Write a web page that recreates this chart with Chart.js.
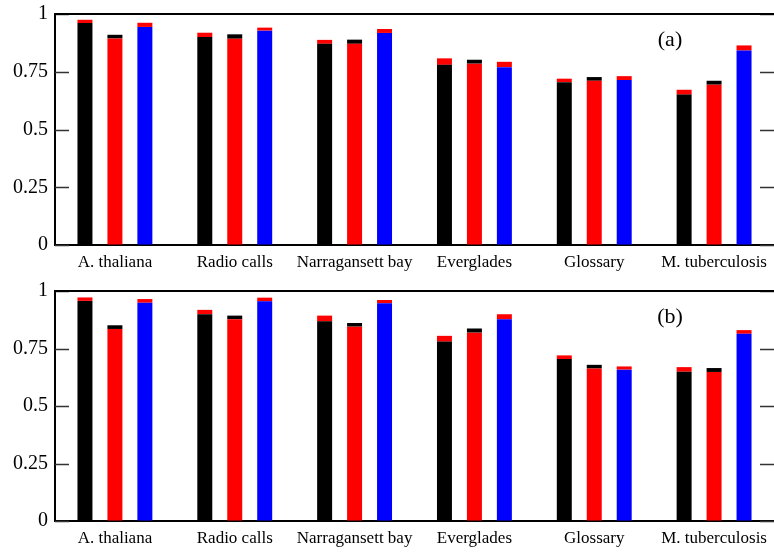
<!DOCTYPE html>
<html>
<head>
<meta charset="utf-8">
<script src="https://cdn.jsdelivr.net/npm/chart.js@4/dist/chart.umd.min.js"></script>
<style>
  html, body { margin: 0; padding: 0; background: #fff; }
  .panel { width: 774px; height: 276px; }
</style>
</head>
<body>
<div class="panel"><canvas id="chartA" width="774" height="276"></canvas></div>
<div class="panel"><canvas id="chartB" width="774" height="276"></canvas></div>
<script>
const categories = ['A. thaliana', 'Radio calls', 'Narragansett bay', 'Everglades', 'Glossary', 'M. tuberculosis'];
const yTicks = [0, 0.25, 0.5, 0.75, 1];

// panel (a)
const aBlack = [0.961, 0.900, 0.871, 0.780, 0.705, 0.651];
const aBlackTop = [0.975, 0.919, 0.888, 0.808, 0.720, 0.672];
const aRed = [0.894, 0.893, 0.871, 0.785, 0.711, 0.694];
const aRedTop = [0.910, 0.912, 0.889, 0.802, 0.727, 0.711];
const aBlue = [0.944, 0.928, 0.918, 0.770, 0.714, 0.842];
const aBlueTop = [0.962, 0.941, 0.935, 0.793, 0.731, 0.864];

// panel (b)
const bBlack = [0.957, 0.899, 0.868, 0.780, 0.704, 0.649];
const bBlackTop = [0.972, 0.918, 0.893, 0.805, 0.720, 0.669];
const bRed = [0.835, 0.877, 0.845, 0.819, 0.663, 0.648];
const bRedTop = [0.851, 0.893, 0.861, 0.837, 0.679, 0.665];
const bBlue = [0.949, 0.955, 0.947, 0.877, 0.658, 0.814];
const bBlueTop = [0.965, 0.971, 0.961, 0.899, 0.672, 0.830];

const serif = 'Liberation Serif';

function capOf(base, top) {
    return top.map((t, i) => +(t - base[i]).toFixed(3));
}

// inward ticks on both sides, top frame line, panel letter
const framePlugin = {
    id: 'frame',
    afterDraw(chart, args, opts) {
        const { ctx, chartArea, scales } = chart;
        const y = scales.y;
        ctx.save();
        ctx.strokeStyle = '#333';
        ctx.lineWidth = 1.5;
        yTicks.forEach(v => {
            const py = Math.round(y.getPixelForValue(v)) + 0.5;
            ctx.beginPath();
            ctx.moveTo(chartArea.left, py);
            ctx.lineTo(chartArea.left + 14, py);
            ctx.moveTo(chartArea.right - 14, py);
            ctx.lineTo(chartArea.right, py);
            ctx.stroke();
        });
        ctx.strokeStyle = '#000';
        ctx.lineWidth = 2;
        ctx.beginPath();
        ctx.moveTo(chartArea.left, chartArea.top);
        ctx.lineTo(chartArea.right, chartArea.top);
        ctx.stroke();
        ctx.fillStyle = '#000';
        ctx.font = '22px "' + serif + '"';
        ctx.textAlign = 'center';
        ctx.textBaseline = 'middle';
        ctx.fillText(opts.label, chartArea.left + 615, chartArea.top + 26);
        ctx.restore();
    }
};

function makeChart(id, label, topPad, black, blackTop, red, redTop, blue, blueTop) {
    return new Chart(document.getElementById(id), {
        type: 'bar',
        data: {
            labels: categories,
            datasets: [
                { data: black, backgroundColor: '#000000', stack: 's1' },
                { data: capOf(black, blackTop), backgroundColor: '#ff0000', stack: 's1' },
                { data: red, backgroundColor: '#ff0000', stack: 's2' },
                { data: capOf(red, redTop), backgroundColor: '#000000', stack: 's2' },
                { data: blue, backgroundColor: '#0000ff', stack: 's3' },
                { data: capOf(blue, blueTop), backgroundColor: '#ff0000', stack: 's3' }
            ]
        },
        options: {
            responsive: false,
            animation: false,
            devicePixelRatio: 1,
            categoryPercentage: 0.75,
            barPercentage: 0.5,
            borderWidth: 0,
            layout: { padding: { top: topPad, right: 0, left: 0, bottom: 0 } },
            scales: {
                x: {
                    stacked: true,
                    grid: { display: false, drawTicks: false },
                    border: { color: '#000', width: 2 },
                    ticks: { color: '#000', padding: 7, maxRotation: 0, autoSkip: false, font: { family: serif, size: 17 } },
                    afterFit(scale) {
                        scale.height = 31;
                        scale.paddingLeft = 0;
                        scale.paddingRight = 0;
                    }
                },
                y: {
                    stacked: true,
                    min: 0,
                    max: 1,
                    afterBuildTicks(scale) {
                        scale.ticks = yTicks.map(v => ({ value: v }));
                    },
                    grid: { drawOnChartArea: false, drawTicks: false },
                    border: { color: '#000', width: 2 },
                    ticks: {
                        color: '#000',
                        padding: 7,
                        font: { family: serif, size: 20 },
                        callback: v => String(v)
                    },
                    afterFit(scale) {
                        scale.width = 55;
                        scale.paddingTop = 0;
                        scale.paddingBottom = 0;
                    }
                }
            },
            plugins: {
                legend: { display: false },
                tooltip: { enabled: false },
                frame: { label: label }
            }
        },
        plugins: [framePlugin]
    });
}

makeChart('chartA', '(a)', 14, aBlack, aBlackTop, aRed, aRedTop, aBlue, aBlueTop);
makeChart('chartB', '(b)', 15, bBlack, bBlackTop, bRed, bRedTop, bBlue, bBlueTop);
</script>
</body>
</html>
